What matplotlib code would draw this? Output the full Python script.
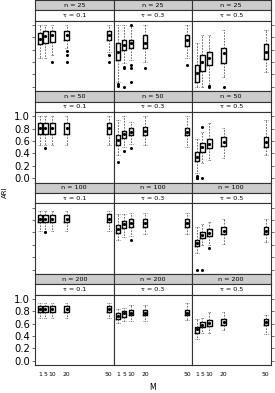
import matplotlib
matplotlib.use("Agg")
import matplotlib.pyplot as plt

n_vals = [25, 50, 100, 200]
tau_vals = ["0.1", "0.3", "0.5"]
M = [1, 5, 10, 20, 50]

# box stats, indexed [n][tau][M]
lo = [
    [[0.46, 0.46, 0.52, 0.62, 0.56], [0.08, 0.38, 0.43, 0.40, 0.46], [0.00, 0.00, 0.03, 0.16, 0.24]],
    [[0.54, 0.54, 0.54, 0.54, 0.54], [0.37, 0.51, 0.56, 0.54, 0.51], [0.08, 0.24, 0.29, 0.32, 0.37]],
    [[0.62, 0.62, 0.62, 0.62, 0.62], [0.47, 0.53, 0.54, 0.58, 0.58], [0.27, 0.40, 0.40, 0.42, 0.45]],
    [[0.70, 0.70, 0.70, 0.70, 0.70], [0.61, 0.65, 0.65, 0.65, 0.66], [0.36, 0.45, 0.45, 0.50, 0.43]],
]
q1 = [
    [[0.69, 0.70, 0.73, 0.76, 0.76], [0.44, 0.59, 0.63, 0.62, 0.66], [0.08, 0.26, 0.35, 0.39, 0.45]],
    [[0.72, 0.72, 0.72, 0.72, 0.72], [0.54, 0.65, 0.69, 0.70, 0.69], [0.28, 0.43, 0.48, 0.52, 0.51]],
    [[0.76, 0.76, 0.76, 0.76, 0.76], [0.59, 0.67, 0.68, 0.68, 0.68], [0.38, 0.51, 0.54, 0.57, 0.58]],
    [[0.79, 0.79, 0.79, 0.79, 0.79], [0.67, 0.71, 0.74, 0.74, 0.74], [0.45, 0.54, 0.56, 0.58, 0.58]],
]
med = [
    [[0.77, 0.82, 0.84, 0.84, 0.84], [0.56, 0.68, 0.70, 0.70, 0.75], [0.22, 0.40, 0.46, 0.54, 0.56]],
    [[0.81, 0.81, 0.81, 0.81, 0.81], [0.62, 0.72, 0.75, 0.76, 0.75], [0.35, 0.50, 0.56, 0.59, 0.59]],
    [[0.82, 0.82, 0.82, 0.82, 0.82], [0.66, 0.73, 0.75, 0.75, 0.75], [0.43, 0.56, 0.59, 0.62, 0.63]],
    [[0.84, 0.84, 0.84, 0.84, 0.84], [0.72, 0.77, 0.78, 0.78, 0.78], [0.51, 0.58, 0.61, 0.62, 0.62]],
]
q3 = [
    [[0.87, 0.90, 0.90, 0.91, 0.91], [0.70, 0.76, 0.76, 0.83, 0.83], [0.35, 0.51, 0.56, 0.63, 0.69]],
    [[0.89, 0.89, 0.89, 0.89, 0.89], [0.70, 0.77, 0.81, 0.82, 0.81], [0.43, 0.57, 0.63, 0.67, 0.67]],
    [[0.88, 0.88, 0.88, 0.88, 0.89], [0.72, 0.78, 0.81, 0.81, 0.82], [0.48, 0.61, 0.65, 0.69, 0.69]],
    [[0.89, 0.89, 0.89, 0.89, 0.89], [0.77, 0.81, 0.83, 0.83, 0.83], [0.55, 0.63, 0.66, 0.67, 0.67]],
]
hi = [
    [[1.00, 1.00, 1.00, 1.00, 1.00], [1.00, 1.00, 0.98, 1.00, 1.00], [0.70, 0.83, 0.83, 0.92, 0.92]],
    [[1.00, 1.00, 1.00, 1.00, 1.00], [0.94, 1.00, 0.91, 1.00, 1.00], [0.64, 0.75, 0.89, 0.81, 0.94]],
    [[0.95, 0.95, 0.95, 0.95, 0.95], [0.89, 0.90, 0.92, 0.92, 0.92], [0.69, 0.73, 0.77, 0.81, 0.82]],
    [[0.94, 0.94, 0.94, 0.94, 0.94], [0.84, 0.86, 0.90, 0.90, 0.93], [0.67, 0.70, 0.79, 0.79, 0.74]],
]
fliers = [
    [[[], [], [0.40], [0.58, 0.51, 0.40], [0.51, 0.40]],
     [[0.05, 0.01], [0.32, 0.30, 0.0], [1.0, 0.35, 0.30, 0.07], [0.30], [0.35]],
     [[], [], [0.0, 0.01], [0.0], []]],
    [[[], [0.48], [], [], []],
     [[0.26], [0.44], [0.48], [], []],
     [[0.03, 0.01, 0.0], [0.83, 0.0], [], [], []]],
    [[[], [0.60], [], [], []],
     [[], [], [0.48], [], []],
     [[0.0], [0.0], [0.34], [], []]],
    [[[], [], [], [], []],
     [[], [], [], [], []],
     [[], [], [], [], []]],
]

W, H = 275, 393
fig = plt.figure(figsize=(W / 100, H / 100), dpi=100)
plt.rcParams['font.family'] = ['DejaVu Sans']

def rect(x0, y0, x1, y1):
    return [x0 / W, 1 - y1 / H, (x1 - x0) / W, (y1 - y0) / H]

col_x = [35, 113.5, 192, 270.5]
period = 91.35
strip_h = 10.3
edge = '#333333'

for r, n in enumerate(n_vals):
    top = r * period
    for c, tau in enumerate(tau_vals):
        x0, x1 = col_x[c], col_x[c + 1]
        # strips
        for k, (txt, fc) in enumerate([("n = %d" % n, '#cccccc'), ("\u03c4 = " + tau, 'white')]):
            sa = fig.add_axes(rect(x0, top + k * strip_h, x1, top + (k + 1) * strip_h))
            sa.set_facecolor(fc)
            sa.set_xticks([])
            sa.set_yticks([])
            for s in sa.spines.values():
                s.set_color(edge)
                s.set_linewidth(0.8)
            sa.text(0.5, 0.5, txt, ha='center', va='center', fontsize=4.6, transform=sa.transAxes)

        ax = fig.add_axes(rect(x0, top + 2 * strip_h, x1, top + period - 0.2))
        stats = []
        for i in range(len(M)):
            stats.append(dict(whislo=lo[r][c][i], q1=q1[r][c][i], med=med[r][c][i],
                              q3=q3[r][c][i], whishi=hi[r][c][i], mean=med[r][c][i],
                              fliers=fliers[r][c][i]))
        ax.bxp(stats, positions=M, widths=3.1, showmeans=True, manage_ticks=False,
               boxprops=dict(color='black', linewidth=1.0),
               whiskerprops=dict(color='#555555', linewidth=0.6, linestyle=(0, (2, 1.5))),
               capprops=dict(color='#555555', linewidth=0.6, linestyle=(0, (1, 1))),
               capwidths=2.6,
               medianprops=dict(linestyle='none'),
               meanprops=dict(marker='o', markersize=1.3, markerfacecolor='black',
                              markeredgecolor='black'),
               flierprops=dict(marker='o', markersize=1.2, markerfacecolor='black',
                               markeredgecolor='black'))
        ax.set_xlim(-2.43, 53.43)
        ax.set_ylim(-0.07, 1.07)
        for s in ax.spines.values():
            s.set_color(edge)
            s.set_linewidth(0.8)
        yt = [0.0, 0.2, 0.4, 0.6, 0.8, 1.0]
        ax.set_yticks(yt)
        ax.tick_params(axis='y', length=2.5, width=0.5, color='#333333', direction='out',
                       left=(c == 0), right=(c == 2), labelleft=(c == 0 and r % 2 == 1),
                       labelright=False, labelsize=7.2, pad=1.2)
        if c == 0 and r % 2 == 1:
            ax.set_yticklabels(["%.1f" % v for v in yt])
        ax.set_xticks(M)
        if r == 3:
            ax.tick_params(axis='x', length=0, labelsize=4.3, pad=5)
            ax.set_xticklabels([str(m) for m in M])
        else:
            ax.tick_params(axis='x', length=0, labelbottom=False)

fig.text(5 / W, 1 - 192 / H, "ARI", rotation=90, ha='center', va='center', fontsize=5)
fig.text(153 / W, 1 - 387 / H, "M", ha='center', va='center', fontsize=5.5)

fig.savefig("out.png", dpi=100)
